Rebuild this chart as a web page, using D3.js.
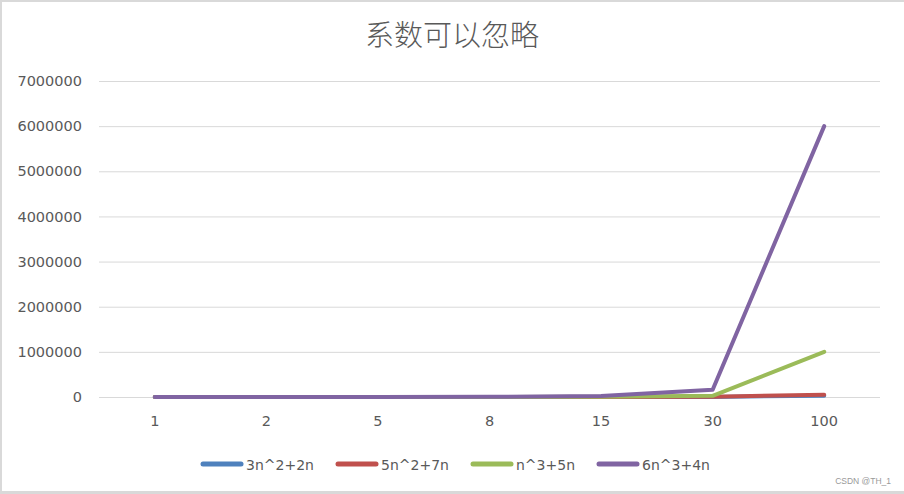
<!DOCTYPE html>
<html><head><meta charset="utf-8">
<script src="https://cdn.jsdelivr.net/npm/d3@7/dist/d3.min.js"></script>
<style>body{margin:0;padding:0;background:#fff;}svg{display:block;}</style>
</head><body>
<script>
const categories = ["1","2","5","8","15","30","100"];
const seriesNames = ["3n^2+2n","5n^2+7n","n^3+5n","6n^3+4n"];
const s1 = [5, 16, 85, 208, 705, 2760, 30200];
const s2 = [12, 34, 160, 376, 1230, 4710, 50700];
const s3 = [6, 18, 150, 552, 3450, 27150, 1000500];
const s4 = [10, 56, 770, 3104, 20310, 162120, 6000400];
const yTicks = [0,1000000,2000000,3000000,4000000,5000000,6000000,7000000];
const colors = ["#4f81bd","#c0504d","#9bbb59","#8064a2"];
const title = "系数可以忽略";
const watermark = "CSDN @TH_1";

(function(){
const W = 904, H = 494;
const FONT = "'DejaVu Sans', sans-serif";
const svg = d3.select("body").append("svg").attr("width", W).attr("height", H);
svg.append("rect").attr("width", W).attr("height", H).attr("fill", "#d9d9d9");
svg.append("rect").attr("x", 2).attr("y", 2).attr("width", W - 2).attr("height", 489).attr("fill", "#fff");

const mL = 99, mR = 880, mT = 81, mB = 397;
const x = d3.scaleBand().domain(categories).range([mL, mR]);
const y = d3.scaleLinear().domain([0, 7000000]).range([mB, mT]);

svg.append("text").attr("x", 452).attr("y", 46).attr("text-anchor", "middle")
  .attr("font-family", "'Noto Sans CJK SC'").attr("font-weight", 300).attr("font-size", 29)
  .attr("fill", "#595959").text(title);

const yAxis = d3.axisLeft(y).tickValues(yTicks).tickSize(-(mR - mL)).tickPadding(17).tickFormat(d3.format("d"));
const gy = svg.append("g").attr("transform", `translate(${mL},0)`).call(yAxis);
gy.select(".domain").remove();
gy.selectAll(".tick line").attr("stroke", "#d9d9d9").attr("stroke-width", 1);
gy.selectAll(".tick text").attr("font-family", FONT).attr("font-size", 14.5).attr("fill", "#595959");

const xAxis = d3.axisBottom(x).tickSize(0).tickPadding(19);
const gx = svg.append("g").attr("transform", `translate(0,${mB})`).call(xAxis);
gx.select(".domain").remove();
gx.selectAll(".tick text").attr("font-family", FONT).attr("font-size", 14.5).attr("fill", "#595959");

const allSeries = [s1, s2, s3, s4];
const line = d3.line().x((d, i) => x(categories[i]) + x.bandwidth() / 2).y(d => y(d));
allSeries.forEach((s, k) => {
  svg.append("path").datum(s).attr("d", line).attr("fill", "none")
    .attr("stroke", colors[k]).attr("stroke-width", 4)
    .attr("stroke-linejoin", "round").attr("stroke-linecap", "round");
});

const legX = [203, 338, 473, 599];
seriesNames.forEach((n, k) => {
  const g = svg.append("g").attr("transform", `translate(${legX[k]},464)`);
  g.append("line").attr("x1", 0).attr("x2", 38).attr("y1", 0).attr("y2", 0)
    .attr("stroke", colors[k]).attr("stroke-width", 5).attr("stroke-linecap", "round");
  g.append("text").attr("x", 43).attr("y", 5.5).attr("font-family", FONT)
    .attr("font-size", 14).attr("fill", "#595959").text(n);
});

svg.append("text").attr("x", 891).attr("y", 484).attr("text-anchor", "end")
  .attr("font-family", "'Liberation Sans', Arial, sans-serif").attr("font-size", 8.5)
  .attr("fill", "#999").text(watermark);
})();
</script>
</body></html>
